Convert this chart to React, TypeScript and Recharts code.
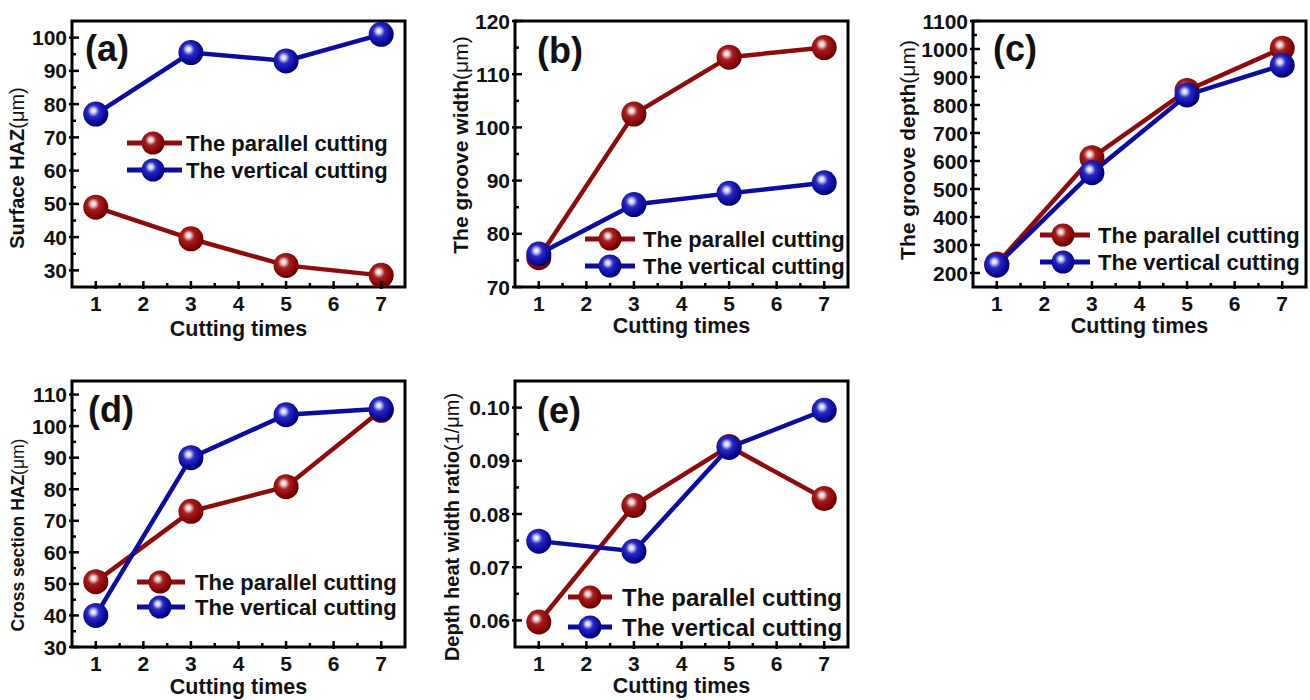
import React from 'react';
import { LineChart, Line, XAxis, YAxis, ReferenceArea, Legend } from 'recharts';

// ---------- data ----------
const cuttingTimes = [1, 3, 5, 7];
const xTickValues = [1, 2, 3, 4, 5, 6, 7];
const xMinorTicks = [1.5, 2.5, 3.5, 4.5, 5.5, 6.5];
const seriesNames = ['The parallel cutting', 'The vertical cutting'];
const xAxisTitle = 'Cutting times';

const surfaceHazParallel = [49, 39.5, 31.5, 28.5];
const surfaceHazVertical = [77, 95.5, 93, 101];
const grooveWidthParallel = [75.5, 102.5, 113.2, 115];
const grooveWidthVertical = [76.2, 85.5, 87.6, 89.6];
const grooveDepthParallel = [232, 612, 852, 1003];
const grooveDepthVertical = [228, 558, 836, 942];
const crossHazParallel = [50.7, 73, 80.8, 105];
const crossHazVertical = [40, 90, 103.6, 105.5];
const ratioParallel = [0.0597, 0.0816, 0.0927, 0.0829];
const ratioVertical = [0.0749, 0.073, 0.0925, 0.0995];

const surfaceHazTicks = [30, 40, 50, 60, 70, 80, 90, 100];
const surfaceHazMinor = [35, 45, 55, 65, 75, 85, 95];
const grooveWidthTicks = [70, 80, 90, 100, 110, 120];
const grooveWidthMinor = [75, 85, 95, 105, 115];
const grooveDepthTicks = [200, 300, 400, 500, 600, 700, 800, 900, 1000, 1100];
const grooveDepthMinor = [250, 350, 450, 550, 650, 750, 850, 950, 1050];
const crossHazTicks = [30, 40, 50, 60, 70, 80, 90, 100, 110];
const crossHazMinor = [35, 45, 55, 65, 75, 85, 95, 105];
const ratioTicks = [0.06, 0.07, 0.08, 0.09, 0.1];
const ratioMinor = [0.065, 0.075, 0.085, 0.095];

// ---------- style ----------
const FONT = '"Liberation Sans", Arial, Helvetica, sans-serif';
const RED = '#8e0b0b';
const BLUE = '#0c0c9e';
const YW = 80;
const XH = 60;
const MT = 15;
const MR = 4;
const PW = 333;
const PH = 266;

type Panel = {
  letter: string;
  yTitle: string;
  yUnit: string;
  yTitleSize: number;
  par: number[];
  ver: number[];
  domain: [number, number];
  major: number[];
  minor: number[];
  decimals: number;
  plotLeft: number;
  plotTop: number;
  yTitleX: number;
  yTitleY: number;
  xTitleOff: number;
  letterX: number;
  letterY: number;
  legLineStart: number;
  legMarker: number;
  legLineEnd: number;
  legText: number;
  legRow1: number;
  legRow2: number;
  legFont: number;
};

const panels: Panel[] = [
  {
    letter: '(a)', yTitle: 'Surface HAZ', yUnit: '(\u03bcm)', yTitleSize: 20,
    par: surfaceHazParallel, ver: surfaceHazVertical, domain: [25, 105],
    major: surfaceHazTicks, minor: surfaceHazMinor, decimals: 0,
    plotLeft: 72, plotTop: 21, yTitleX: 17, yTitleY: 168, xTitleOff: 49,
    letterX: 85, letterY: 48,
    legLineStart: 127, legMarker: 153, legLineEnd: 182, legText: 186, legRow1: 143, legRow2: 170, legFont: 22,
  },
  {
    letter: '(b)', yTitle: 'The groove width', yUnit: '(\u03bcm)', yTitleSize: 21,
    par: grooveWidthParallel, ver: grooveWidthVertical, domain: [70, 120],
    major: grooveWidthTicks, minor: grooveWidthMinor, decimals: 0,
    plotLeft: 515, plotTop: 21, yTitleX: 460, yTitleY: 145, xTitleOff: 46,
    letterX: 537, letterY: 50,
    legLineStart: 585, legMarker: 610, legLineEnd: 635, legText: 643, legRow1: 239, legRow2: 266, legFont: 22,
  },
  {
    letter: '(c)', yTitle: 'The groove depth', yUnit: '(\u03bcm)', yTitleSize: 21,
    par: grooveDepthParallel, ver: grooveDepthVertical, domain: [150, 1100],
    major: grooveDepthTicks, minor: grooveDepthMinor, decimals: 0,
    plotLeft: 973, plotTop: 21, yTitleX: 907, yTitleY: 150, xTitleOff: 46,
    letterX: 993, letterY: 48,
    legLineStart: 1040, legMarker: 1063, legLineEnd: 1090, legText: 1098, legRow1: 235, legRow2: 262, legFont: 22,
  },
  {
    letter: '(d)', yTitle: 'Cross section HAZ', yUnit: '(\u03bcm)', yTitleSize: 17.5,
    par: crossHazParallel, ver: crossHazVertical, domain: [30, 114.3],
    major: crossHazTicks, minor: crossHazMinor, decimals: 0,
    plotLeft: 72, plotTop: 381, yTitleX: 18, yTitleY: 535, xTitleOff: 47,
    letterX: 88, letterY: 409,
    legLineStart: 137, legMarker: 160, legLineEnd: 185, legText: 195, legRow1: 582, legRow2: 607, legFont: 22,
  },
  {
    letter: '(e)', yTitle: 'Depth heat width ratio', yUnit: '(1/\u03bcm)', yTitleSize: 20,
    par: ratioParallel, ver: ratioVertical, domain: [0.055, 0.105],
    major: ratioTicks, minor: ratioMinor, decimals: 2,
    plotLeft: 515, plotTop: 381, yTitleX: 452, yTitleY: 527, xTitleOff: 46,
    letterX: 537, letterY: 410,
    legLineStart: 568, legMarker: 590, legLineEnd: 612, legText: 622, legRow1: 597, legRow2: 627, legFont: 24,
  },
];

const textStyle = { fontFamily: FONT, fontWeight: 700, fill: '#111' } as const;

function Sphere({ cx, cy, r, grad }: { cx: number; cy: number; r: number; grad: string }) {
  return <circle cx={cx} cy={cy} r={r} fill={`url(#${grad})`} />;
}

function ChartPanel({ p }: { p: Panel }) {
  const chartLeft = p.plotLeft - YW;
  const chartTop = p.plotTop - MT;
  const data = cuttingTimes.map((x, i) => ({ x, par: p.par[i], ver: p.ver[i] }));
  const allTicks = [...p.major, ...p.minor].sort((a, b) => a - b);
  const allXTicks = [...xTickValues, ...xMinorTicks].sort((a, b) => a - b);
  const isMajor = (v: number) => p.major.some((m) => Math.abs(m - v) < 1e-9);

  const yTick = (props: any) => {
    const { x, y, payload } = props;
    const v = payload.value as number;
    const maj = isMajor(v);
    return (
      <g>
        <line x1={x - (maj ? 3 : 0)} y1={y} x2={x + (maj ? 7 : 4)} y2={y} stroke="#000" strokeWidth={2.5} />
        {maj && (
          <text x={x - 5} y={y} dy="0.36em" textAnchor="end" fontSize={21} style={textStyle}>
            {v.toFixed(p.decimals)}
          </text>
        )}
      </g>
    );
  };

  const xTick = (props: any) => {
    const { x, y, payload } = props;
    const v = payload.value as number;
    const maj = Number.isInteger(v);
    return (
      <g>
        <line x1={x} y1={y + (maj ? 2 : 0)} x2={x} y2={y - (maj ? 6 : 4)} stroke="#000" strokeWidth={2.5} />
        {maj && (
          <text x={x} y={y + 24} textAnchor="middle" fontSize={21} style={textStyle}>
            {v}
          </text>
        )}
      </g>
    );
  };

  const yTitleX = p.yTitleX - chartLeft;
  const yTitleY = p.yTitleY - chartTop;
  const yLabel = () => (
    <text
      x={yTitleX}
      y={yTitleY}
      transform={`rotate(-90 ${yTitleX} ${yTitleY})`}
      textAnchor="middle"
      dominantBaseline="central"
      fontSize={p.yTitleSize}
      style={textStyle}
    >
      {p.yTitle}
      <tspan fontWeight={400}>{p.yUnit}</tspan>
    </text>
  );

  const xLabel = () => (
    <text x={YW + PW / 2} y={MT + PH + p.xTitleOff} textAnchor="middle" fontSize={21.5} style={textStyle}>
      {xAxisTitle}
    </text>
  );

  const letterLabel = () => (
    <text
      x={p.letterX - chartLeft}
      y={p.letterY - chartTop}
      dy="0.36em"
      textAnchor="start"
      fontSize={36}
      style={textStyle}
    >
      {p.letter}
    </text>
  );

  const legW = 320;
  const r1 = 16;
  const r2 = r1 + (p.legRow2 - p.legRow1);
  const legendContent = () => (
    <svg width={legW} height={r2 + 18} style={{ display: 'block', overflow: 'visible' }}>
      {[
        { y: r1, color: RED, grad: 'sphereRed', name: seriesNames[0] },
        { y: r2, color: BLUE, grad: 'sphereBlue', name: seriesNames[1] },
      ].map((row) => (
        <g key={row.name}>
          <line x1={0} y1={row.y} x2={p.legLineEnd - p.legLineStart} y2={row.y} stroke={row.color} strokeWidth={5} />
          <Sphere cx={p.legMarker - p.legLineStart} cy={row.y} r={11.5} grad={row.grad} />
          <text x={p.legText - p.legLineStart} y={row.y} dy="0.36em" fontSize={p.legFont} style={textStyle}>
            {row.name}
          </text>
        </g>
      ))}
    </svg>
  );

  const dotFor = (grad: string) => (props: any) => (
    <circle key={`${grad}-${props.index}`} cx={props.cx} cy={props.cy} r={12.5} fill={`url(#${grad})`} />
  );

  return (
    <div style={{ position: 'absolute', left: chartLeft, top: chartTop }}>
      <LineChart
        width={YW + PW + MR}
        height={MT + PH + XH}
        data={data}
        margin={{ top: MT, right: MR, bottom: 0, left: 0 }}
      >
        <XAxis
          dataKey="x"
          type="number"
          domain={[0.5, 7.5]}
          ticks={allXTicks}
          interval={0}
          allowDataOverflow
          axisLine={false}
          tickLine={false}
          tickSize={0}
          tickMargin={0}
          height={XH}
          tick={xTick}
          label={xLabel}
        />
        <YAxis
          type="number"
          domain={p.domain}
          ticks={allTicks}
          interval={0}
          allowDataOverflow
          axisLine={false}
          tickLine={false}
          tickSize={0}
          tickMargin={0}
          width={YW}
          tick={yTick}
          label={yLabel}
        />
        <ReferenceArea
          x1={0.5}
          x2={7.5}
          y1={p.domain[0]}
          y2={p.domain[1]}
          fill="none"
          fillOpacity={0}
          stroke="#000"
          strokeWidth={3}
          ifOverflow="visible"
          label={letterLabel}
        />
        <Line
          dataKey="par"
          name={seriesNames[0]}
          stroke={RED}
          strokeWidth={4.5}
          dot={dotFor('sphereRed')}
          activeDot={false}
          isAnimationActive={false}
        />
        <Line
          dataKey="ver"
          name={seriesNames[1]}
          stroke={BLUE}
          strokeWidth={4.5}
          dot={dotFor('sphereBlue')}
          activeDot={false}
          isAnimationActive={false}
        />
        <Legend
          layout="vertical"
          align="center"
          verticalAlign="middle"
          content={legendContent}
          wrapperStyle={{
            left: p.legLineStart - chartLeft,
            top: p.legRow1 - chartTop - r1,
            width: legW,
            height: r2 + 18,
          }}
        />
      </LineChart>
    </div>
  );
}

export default function App() {
  return (
    <div
      style={{
        position: 'absolute',
        left: 0,
        top: 0,
        width: 1310,
        height: 700,
        overflow: 'hidden',
        background: '#fff',
        fontFamily: FONT,
      }}
    >
      <svg width={0} height={0} style={{ position: 'absolute' }}>
        <defs>
          <radialGradient id="sphereRed" cx="0.42" cy="0.4" r="0.62" fx="0.4" fy="0.36">
            <stop offset="0" stopColor="#ffffff" />
            <stop offset="0.14" stopColor="#f1d2d2" />
            <stop offset="0.38" stopColor="#a51f1f" />
            <stop offset="0.75" stopColor="#8a0606" />
            <stop offset="1" stopColor="#5e0000" />
          </radialGradient>
          <radialGradient id="sphereBlue" cx="0.42" cy="0.4" r="0.62" fx="0.4" fy="0.36">
            <stop offset="0" stopColor="#ffffff" />
            <stop offset="0.14" stopColor="#d4d4ff" />
            <stop offset="0.38" stopColor="#2a2ac4" />
            <stop offset="0.75" stopColor="#0a0a9c" />
            <stop offset="1" stopColor="#000070" />
          </radialGradient>
        </defs>
      </svg>
      {panels.map((p) => (
        <ChartPanel key={p.letter} p={p} />
      ))}
    </div>
  );
}
